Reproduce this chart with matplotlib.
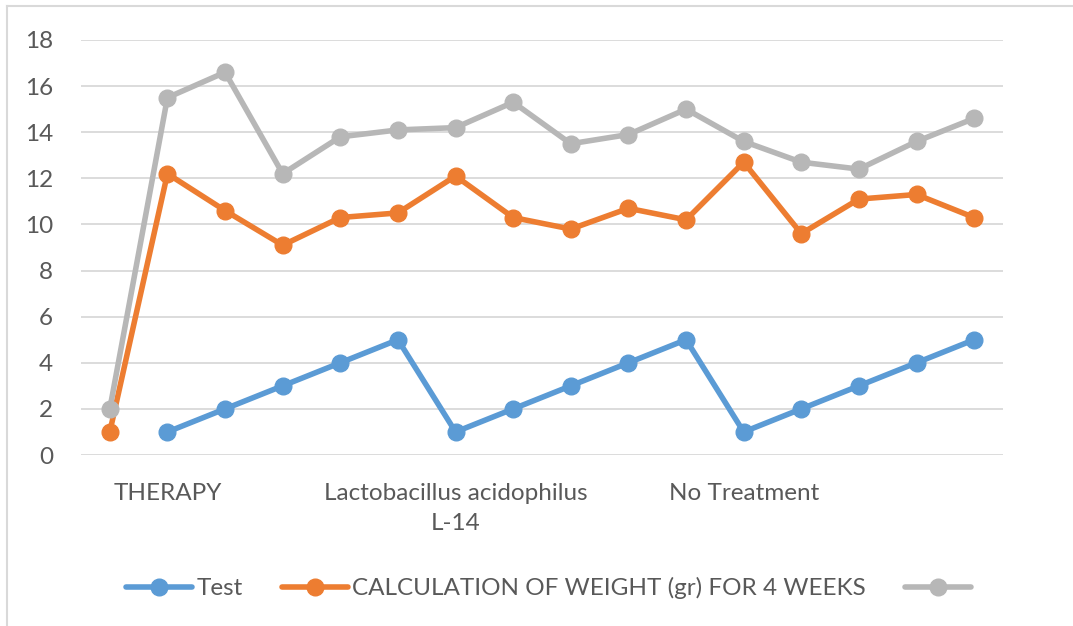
import matplotlib
matplotlib.use("Agg")
import matplotlib.pyplot as plt
from matplotlib.lines import Line2D
import numpy as np

categories = ["", "THERAPY", "", "", "", "", "Lactobacillus acidophilus\nL-14", "", "", "", "",
              "No Treatment", "", "", "", ""]
test = [np.nan, 1, 2, 3, 4, 5, 1, 2, 3, 4, 5, 1, 2, 3, 4, 5]
weight = [1, 12.2, 10.6, 9.1, 10.3, 10.5, 12.1, 10.3, 9.8, 10.7, 10.2, 12.7, 9.6, 11.1, 11.3, 10.3]
third = [2, 15.5, 16.6, 12.2, 13.8, 14.1, 14.2, 15.3, 13.5, 13.9, 15.0, 13.6, 12.7, 12.4, 13.6, 14.6]
series_labels = ["Test", "CALCULATION OF WEIGHT (gr) FOR 4 WEEKS", " "]
yticks = [0, 2, 4, 6, 8, 10, 12, 14, 16, 18]

plt.rcParams['font.family'] = ['Lato', 'DejaVu Sans']
TXT = "#595959"
FS = 17.5
W, H = 1073, 626
fig = plt.figure(figsize=(W / 100, H / 100), dpi=100)
ax = fig.add_axes([81 / W, 1 - 455 / H, (1003 - 81) / W, (455 - 40) / H])

x = np.arange(len(categories))
colors = ["#5B9BD5", "#ED7D31", "#B7B7B7"]
handles = []
for ys, c, lab in zip([test, weight, third], colors, series_labels):
    h, = ax.plot(x, ys, color=c, lw=4.0, marker="o", ms=12, label=lab,
                 solid_capstyle="round", zorder=3)
    handles.append(h)
ax.set_xlim(-0.5, len(categories) - 0.5)
ax.set_ylim(0, 18)
ax.set_yticks(yticks)
ax.set_yticklabels([str(v) for v in yticks])
ax.set_xticks(x)
ax.set_xticklabels(categories, linespacing=1.55, va="top", fontsize=18)
ax.tick_params(axis="both", length=0, labelsize=FS, colors=TXT)
ax.tick_params(axis="y", pad=20)
ax.tick_params(axis="x", pad=20)
ax.grid(axis="y", color="#d9d9d9", lw=1.3, zorder=0)
for s in ax.spines.values():
    s.set_visible(False)

leg = fig.legend(handles, series_labels, loc="center", ncol=3,
                 bbox_to_anchor=(554 / W, 1 - 588 / H), frameon=False,
                 fontsize=FS, handlelength=2.7, columnspacing=1.6,
                 handletextpad=0.2, labelcolor=TXT)

fig.add_artist(Line2D([7 / W, 7 / W], [0, 1 - 6 / H], color="#d9d9d9", lw=1.5))
fig.add_artist(Line2D([7 / W, 1], [1 - 6 / H, 1 - 6 / H], color="#d9d9d9", lw=1.5))

fig.savefig("out.png", dpi=100)
